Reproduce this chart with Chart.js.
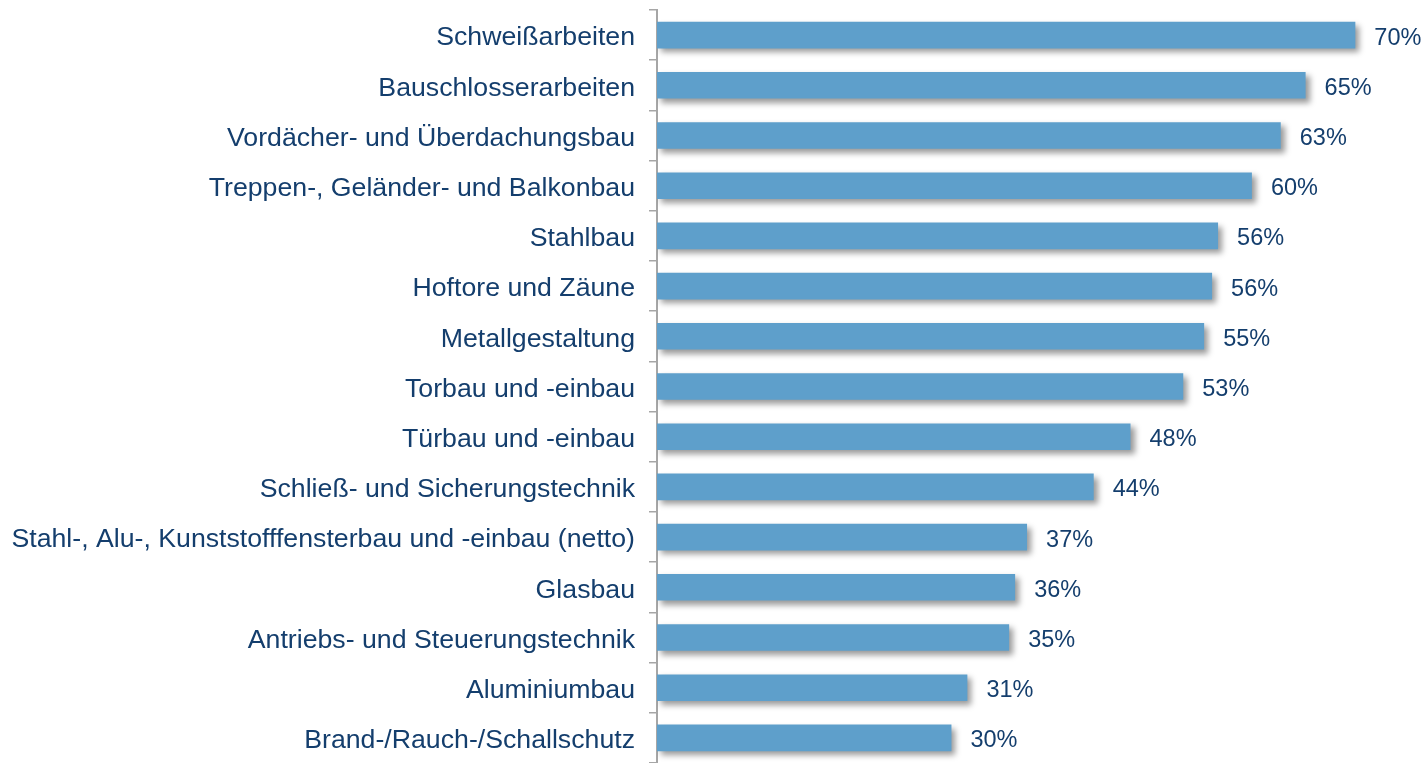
<!DOCTYPE html>
<html>
<head>
<meta charset="utf-8">
<script src="https://cdn.jsdelivr.net/npm/chart.js@4"></script>
<style>
  html, body { margin: 0; padding: 0; background: #fff; }
  #wrap { width: 1423px; height: 763px; }
</style>
</head>
<body>
<div id="wrap"><canvas id="chart"></canvas></div>
<script>
const categories = [
  "Schweißarbeiten",
  "Bauschlosserarbeiten",
  "Vordächer- und Überdachungsbau",
  "Treppen-, Geländer- und Balkonbau",
  "Stahlbau",
  "Hoftore und Zäune",
  "Metallgestaltung",
  "Torbau und -einbau",
  "Türbau und -einbau",
  "Schließ- und Sicherungstechnik",
  "Stahl-, Alu-, Kunststofffensterbau und -einbau (netto)",
  "Glasbau",
  "Antriebs- und Steuerungstechnik",
  "Aluminiumbau",
  "Brand-/Rauch-/Schallschutz"
];
const shares = [70.2, 65.2, 62.7, 59.8, 56.4, 55.8, 55.0, 52.9, 47.6, 43.9, 37.2, 36.0, 35.4, 31.2, 29.6];

const textColor = "#143e6d";

// bar shadow
const shadowPlugin = {
  id: "barShadow",
  beforeDatasetDraw(chart) {
    const ctx = chart.ctx;
    ctx.save();
    ctx.shadowColor = "rgba(0,0,0,0.4)";
    ctx.shadowBlur = 6;
    ctx.shadowOffsetX = 4;
    ctx.shadowOffsetY = 4;
  },
  afterDatasetDraw(chart) {
    chart.ctx.restore();
  }
};

// percent labels right of each bar
const valueLabels = {
  id: "valueLabels",
  afterDatasetsDraw(chart) {
    const ctx = chart.ctx;
    const meta = chart.getDatasetMeta(0);
    ctx.save();
    ctx.font = "23.5px 'Liberation Sans', Arial, sans-serif";
    ctx.fillStyle = textColor;
    ctx.textBaseline = "middle";
    meta.data.forEach((bar, i) => {
      ctx.fillText(Math.round(shares[i]) + "%", bar.x + 19, bar.y + 3);
    });
    ctx.restore();
  }
};

new Chart(document.getElementById("chart"), {
  type: "bar",
  data: {
    labels: categories,
    datasets: [{
      data: shares,
      backgroundColor: "#5e9fcb",
      borderWidth: 0,
      categoryPercentage: 1,
      barPercentage: 0.53
    }]
  },
  options: {
    indexAxis: "y",
    responsive: true,
    maintainAspectRatio: false,
    animation: false,
    layout: { padding: { top: 10, bottom: 0, right: 0, left: 0 } },
    plugins: {
      legend: { display: false },
      tooltip: { enabled: false }
    },
    scales: {
      x: {
        display: false,
        min: 0,
        max: 77
      },
      y: {
        afterFit(scale) {
          scale.width = 657;
          scale.paddingTop = 0;
          scale.paddingBottom = 0;
        },
        grid: {
          drawOnChartArea: false,
          drawTicks: true,
          tickLength: 8,
          color: "#a6a6a6",
          lineWidth: 1.5
        },
        border: { color: "#a6a6a6", width: 2 },
        ticks: {
          color: textColor,
          padding: 14,
          labelOffset: 3,
          font: { family: "'Liberation Sans', Arial, sans-serif", size: 26.7 }
        }
      }
    }
  },
  plugins: [shadowPlugin, valueLabels]
});
</script>
</body>
</html>
